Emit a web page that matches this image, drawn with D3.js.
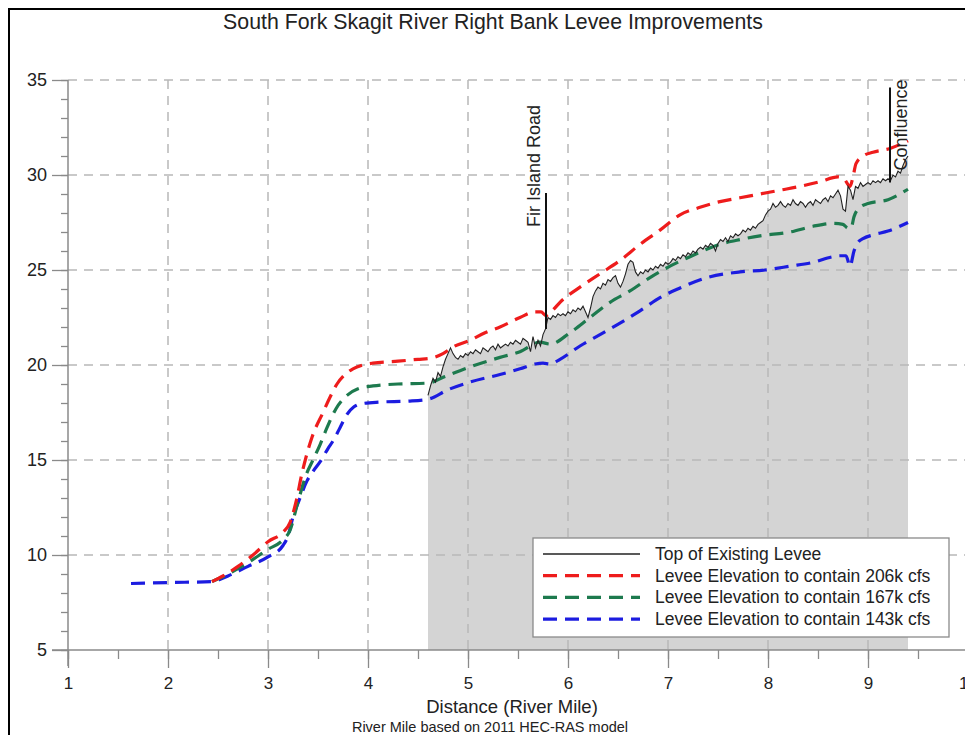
<!DOCTYPE html>
<html><head><meta charset="utf-8">
<script src="https://cdn.jsdelivr.net/npm/d3@7"></script>
<style>
html,body{margin:0;padding:0;background:#fff;}
svg{display:block;font-family:Arial,"Liberation Sans",sans-serif;}
</style></head>
<body>
<svg id="chart" width="965" height="735"></svg>
<script>
// ---------------- data ----------------
const titleText = "South Fork Skagit River Right Bank Levee Improvements";
const xLabel = "Distance (River Mile)";
const xNote = "River Mile based on 2011 HEC-RAS model";
const xTicks = [1,2,3,4,5,6,7,8,9,10];
const yTicks = [5,10,15,20,25,30,35];
const seriesNames = ["Top of Existing Levee","Levee Elevation to contain 206k cfs","Levee Elevation to contain 167k cfs","Levee Elevation to contain 143k cfs"];
const seriesColors = ["#222222","#ee1c1c","#1d7a4e","#1c1ce0"];

// Top of existing levee (river mile, elevation)
const leveeX = [4.600,4.625,4.650,4.675,4.700,4.725,4.750,4.775,4.800,4.825,4.850,4.875,4.900,4.925,4.950,4.975,
5.000,5.025,5.050,5.075,5.100,5.125,5.150,5.175,5.200,5.225,5.250,5.275,5.300,5.325,5.350,5.375,5.400,5.425,5.450,5.475,
5.500,5.525,5.550,5.575,5.600,5.625,5.650,5.675,5.700,5.725,5.750,5.775,5.800,5.825,5.850,5.875,5.900,5.925,5.950,5.975,
6.000,6.025,6.050,6.075,6.100,6.125,6.150,6.175,6.200,6.225,6.250,6.275,6.300,6.325,6.350,6.375,6.400,6.425,6.450,6.475,
6.500,6.525,6.550,6.575,6.600,6.625,6.650,6.675,6.700,6.725,6.750,6.775,6.800,6.825,6.850,6.875,6.900,6.925,6.950,6.975,
7.000,7.025,7.050,7.075,7.100,7.125,7.150,7.175,7.200,7.225,7.250,7.275,7.300,7.325,7.350,7.375,7.400,7.425,7.450,7.475,
7.500,7.525,7.550,7.575,7.600,7.625,7.650,7.675,7.700,7.725,7.750,7.775,7.800,7.825,7.850,7.875,7.900,7.925,7.950,7.975,
8.000,8.025,8.050,8.075,8.100,8.125,8.150,8.175,8.200,8.225,8.250,8.275,8.300,8.325,8.350,8.375,8.400,8.425,8.450,8.475,
8.500,8.525,8.550,8.575,8.600,8.625,8.650,8.675,8.700,8.725,8.750,8.775,8.800,8.825,8.850,8.875,8.900,8.925,8.950,8.975,
9.000,9.025,9.050,9.075,9.100,9.125,9.150,9.175,9.200,9.225,9.250,9.275,9.300,9.325,9.350,9.375,9.400];
const leveeY = [18.4,18.9,19.3,19.1,19.6,19.4,19.9,20.3,20.6,20.9,20.6,20.4,20.3,20.5,20.4,20.6,
20.5,20.7,20.6,20.8,20.7,20.6,20.9,20.8,20.7,20.9,21.0,20.8,21.1,20.9,21.0,21.1,21.0,21.2,21.1,21.3,
21.2,21.1,21.4,21.3,21.2,20.7,21.5,20.9,21.3,21.0,21.6,21.9,22.5,22.4,22.6,22.5,22.7,22.6,22.7,22.6,
22.8,22.7,22.9,22.8,23.0,22.9,23.1,22.8,22.5,23.0,23.6,23.9,24.1,24.0,24.3,24.2,24.5,24.4,24.6,24.7,
24.3,24.1,24.4,24.8,25.3,25.5,25.4,24.9,24.7,24.9,24.8,25.0,24.9,25.1,25.0,25.2,25.1,25.3,25.2,25.4,
25.3,25.4,25.6,25.5,25.7,25.6,25.8,25.7,25.9,25.8,26.0,25.9,26.1,26.2,26.1,26.3,26.2,26.4,26.3,26.0,
26.4,26.6,26.5,26.7,26.5,26.8,26.7,26.9,26.8,26.9,27.1,27.0,27.2,27.1,27.3,27.2,27.4,27.5,27.6,27.9,
28.1,28.2,28.5,28.3,28.4,28.6,28.4,28.3,28.5,28.4,28.7,28.5,28.4,28.6,28.5,28.3,28.5,28.6,28.4,28.7,
28.6,28.5,28.7,28.8,28.6,28.9,28.8,29.0,29.2,28.9,28.2,28.1,29.4,29.2,28.7,29.4,29.3,29.6,29.4,29.5,
29.6,29.5,29.7,29.6,29.7,29.6,29.8,29.7,29.8,29.7,30.0,29.9,30.2,30.1,30.5,30.8,31.0];

// Levee elevation to contain 206k cfs
const red206X = [2.44,2.55,2.70,2.85,3.00,3.15,3.22,3.28,3.34,3.44,3.55,3.62,3.69,3.77,3.85,3.95,4.05,4.30,4.50,4.62,4.75,4.85,5.02,5.17,5.32,5.52,5.67,5.73,5.78,5.85,5.92,6.12,6.32,6.52,6.72,6.92,7.12,7.32,7.52,7.72,7.92,8.12,8.32,8.52,8.70,8.76,8.82,8.85,8.88,8.95,9.05,9.22,9.40];
const red206Y = [8.6,8.9,9.4,10.0,10.7,11.2,11.7,12.8,14.3,16.2,17.5,18.3,19.0,19.5,19.8,20.0,20.1,20.2,20.3,20.35,20.6,20.95,21.3,21.7,22.0,22.5,22.8,22.8,22.6,22.9,23.3,24.1,24.8,25.5,26.35,27.1,27.9,28.3,28.6,28.8,29.0,29.2,29.4,29.65,29.9,29.8,29.4,29.9,30.6,31.0,31.2,31.4,31.8];

// Levee elevation to contain 167k cfs
const green167X = [2.44,2.60,2.80,3.00,3.15,3.22,3.30,3.38,3.45,3.52,3.59,3.68,3.79,3.90,4.05,4.30,4.60,4.77,5.02,5.32,5.52,5.72,5.82,6.02,6.22,6.42,6.62,6.82,7.02,7.22,7.52,7.72,7.92,8.22,8.45,8.65,8.75,8.80,8.83,8.86,8.92,9.00,9.20,9.40];
const green167Y = [8.6,9.0,9.6,10.3,10.8,11.3,12.8,14.2,15.0,15.8,16.7,17.7,18.4,18.75,18.9,19.0,19.05,19.4,19.9,20.4,20.7,21.2,21.1,21.7,22.5,23.3,23.9,24.6,25.2,25.7,26.35,26.6,26.8,27.0,27.3,27.45,27.4,27.2,27.2,27.8,28.3,28.5,28.7,29.25];

// Levee elevation to contain 143k cfs
const blue143X = [1.63,2.00,2.44,2.60,2.80,3.00,3.15,3.20,3.25,3.32,3.39,3.45,3.52,3.60,3.65,3.72,3.79,3.86,3.92,4.12,4.40,4.60,4.80,5.02,5.32,5.52,5.67,5.75,5.82,5.92,6.12,6.32,6.52,6.72,6.92,7.12,7.39,7.72,7.97,8.22,8.45,8.65,8.72,8.78,8.82,8.86,8.90,8.95,9.05,9.20,9.40];
const blue143Y = [8.5,8.55,8.6,8.9,9.4,9.9,10.5,11.0,12.0,13.0,13.9,14.4,14.9,15.6,16.0,16.7,17.4,17.8,17.95,18.05,18.1,18.2,18.7,19.1,19.5,19.8,20.05,20.1,20.05,20.3,21.0,21.6,22.2,22.85,23.55,24.05,24.6,24.9,25.0,25.2,25.4,25.7,25.75,25.75,25.2,26.0,26.45,26.65,26.85,27.05,27.5];

// annotations: label, river mile, top elevation, bottom elevation
const annoLabels = ["Fir Island Road","Confluence"];
const annoX = [5.78, 9.22];
const annoTop = [29.05, 34.6];
const annoBottom = [21.9, 29.6];

// ---------------- chart ----------------
const svg = d3.select("#chart");
const x = d3.scaleLinear().domain([1,10]).range([68,968]);
const y = d3.scaleLinear().domain([5,35]).range([650,80]);

// outer frame
svg.append("rect").attr("x",9).attr("y",9).attr("width",1000).attr("height",1000)
  .attr("fill","none").attr("stroke","#000").attr("stroke-width",2);

// title
svg.append("text").attr("x",493).attr("y",29).attr("text-anchor","middle")
  .attr("font-size",21.3).attr("fill","#222").text(titleText);

// fill under existing levee
const levee = leveeX.map((d,i)=>[d,leveeY[i]]);
svg.append("path").datum(levee)
  .attr("d", d3.area().x(d=>x(d[0])).y0(y(5)).y1(d=>y(d[1])))
  .attr("fill","#d4d4d4");

// grid
const grid = svg.append("g").attr("stroke","#b8b8b8").attr("stroke-width",1.5).attr("stroke-dasharray","9,7");
yTicks.filter(v=>v>5).forEach(v=>{
  grid.append("line").attr("x1",x(1)).attr("x2",x(10)).attr("y1",y(v)).attr("y2",y(v));
});
xTicks.filter(v=>v>1).forEach(v=>{
  grid.append("line").attr("x1",x(v)).attr("x2",x(v)).attr("y1",y(35)).attr("y2",y(5));
});

// axes
const axCol = "#8a8a8a";
const yMinor = svg.append("g").attr("transform",`translate(${x(1)},0)`)
  .call(d3.axisLeft(y).tickValues(d3.range(5,36,1)).tickSize(7).tickFormat(""));
const yAx = svg.append("g").attr("transform",`translate(${x(1)},0)`)
  .call(d3.axisLeft(y).tickValues(yTicks).tickSize(16).tickPadding(5));
const xMinor = svg.append("g").attr("transform",`translate(0,${y(5)})`)
  .call(d3.axisBottom(x).tickValues(d3.range(1,10.01,0.5)).tickSize(9).tickFormat(""));
const xAx = svg.append("g").attr("transform",`translate(0,${y(5)})`)
  .call(d3.axisBottom(x).tickValues(xTicks).tickSize(18).tickPadding(9).tickFormat(d3.format("d")));
[yMinor,yAx,xMinor,xAx].forEach(g=>{
  g.selectAll(".domain").remove();
  g.selectAll("line").attr("stroke",axCol).attr("stroke-width",1.3);
  g.selectAll("text").attr("fill","#222").attr("font-family","Arial, 'Liberation Sans', sans-serif");
});
yAx.selectAll("text").attr("font-size",18);
xAx.selectAll("text").attr("font-size",17);
// axis lines
svg.append("line").attr("x1",x(1)).attr("x2",x(1)).attr("y1",y(35)).attr("y2",y(5)+16)
  .attr("stroke",axCol).attr("stroke-width",1.5);
svg.append("line").attr("x1",x(1)-16).attr("x2",970).attr("y1",y(5)).attr("y2",y(5))
  .attr("stroke",axCol).attr("stroke-width",1.5);

// axis titles
svg.append("text").attr("x",512).attr("y",713).attr("text-anchor","middle")
  .attr("font-size",18.5).attr("fill","#222").text(xLabel);
svg.append("text").attr("x",490).attr("y",732).attr("text-anchor","middle")
  .attr("font-size",14.5).attr("fill","#222").text(xNote);

// dashed series
const line = d3.line().x(d=>x(d[0])).y(d=>y(d[1])).curve(d3.curveMonotoneX);
const dashed = [
  [red206X, red206Y, seriesColors[1]],
  [green167X, green167Y, seriesColors[2]],
  [blue143X, blue143Y, seriesColors[3]]
];
dashed.slice().reverse().forEach(([xs,ys,c])=>{
  svg.append("path").datum(xs.map((d,i)=>[d,ys[i]]))
    .attr("d", line).attr("fill","none").attr("stroke",c)
    .attr("stroke-width",3.2).attr("stroke-dasharray","14,8");
});

// existing levee line
svg.append("path").datum(levee)
  .attr("d", d3.line().x(d=>x(d[0])).y(d=>y(d[1])))
  .attr("fill","none").attr("stroke",seriesColors[0]).attr("stroke-width",1.1);

// annotations
annoLabels.forEach((t,i)=>{
  svg.append("line").attr("x1",x(annoX[i])).attr("x2",x(annoX[i]))
    .attr("y1",y(annoTop[i])).attr("y2",y(annoBottom[i]))
    .attr("stroke","#111").attr("stroke-width",2);
});
svg.append("text").attr("transform",`translate(${x(annoX[0])-6},${y(annoTop[0])+34}) rotate(-90)`)
  .attr("font-size",18).attr("fill","#222").text(annoLabels[0]);
svg.append("text").attr("transform",`translate(${x(annoX[1])+17},${y(29.6)-12}) rotate(-90)`)
  .attr("font-size",18).attr("fill","#222").text(annoLabels[1]);

// legend
const lg = svg.append("g");
lg.append("rect").attr("x",533).attr("y",538).attr("width",416).attr("height",99)
  .attr("fill","#fff").attr("stroke","#8a8a8a").attr("stroke-width",1.3);
seriesNames.forEach((n,i)=>{
  const cy = 554 + i*21.7;
  lg.append("line").attr("x1",543).attr("x2",640).attr("y1",cy).attr("y2",cy)
    .attr("stroke",seriesColors[i]).attr("stroke-width",i===0?1.3:3.2)
    .attr("stroke-dasharray",i===0?null:"14,8");
  lg.append("text").attr("x",655).attr("y",cy+6).attr("font-size",17.5).attr("fill","#222").text(n);
});
</script>
</body></html>
